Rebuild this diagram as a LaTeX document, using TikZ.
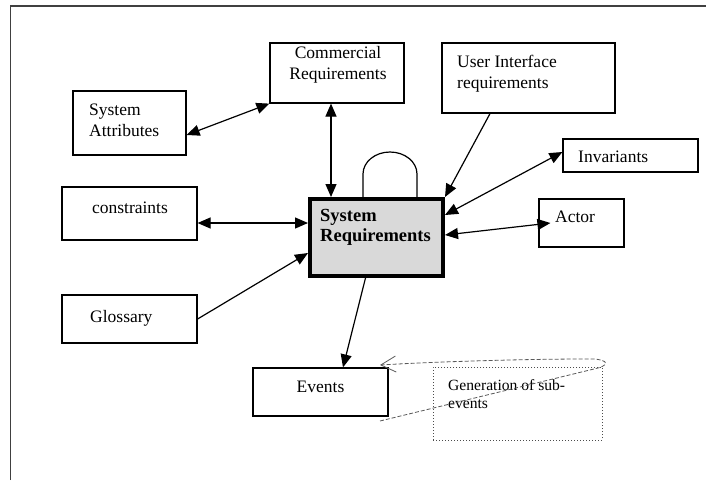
\documentclass[tikz,border=0pt]{standalone}
\usepackage{fontspec}
\setmainfont{Liberation Serif}
\usetikzlibrary{arrows.meta}

\tikzset{
  box/.style={draw=black, line width=1.2pt, inner sep=0pt},
  mainbox/.style={draw=black, fill=black!15, line width=4pt, inner sep=0pt},
  notebox/.style={draw=black!70, dotted, line width=1pt, inner sep=0pt},
  txt/.style={inner sep=0pt, align=left, anchor=base west},
  ctxt/.style={inner sep=0pt, align=center, anchor=base},
  conn/.style={draw=black, line width=1.2pt},
  >={Triangle[length=13pt,width=11pt]}
}

\begin{document}
\begin{tikzpicture}[x=1pt, y=-1pt, font=\fontsize{17.5}{21}\selectfont]
\useasboundingbox (0,0) rectangle (706,480);
% page frame
\draw [black!75, line width=1.8pt] (10.5,480) -- (10.5,6) -- (706,6);

% boxes
\node [box, minimum width=113pt, minimum height=64pt] (attr) at (129.5,123) {};
\node [box, minimum width=134pt, minimum height=60pt] (comm) at (337,73) {};
\node [box, minimum width=173pt, minimum height=70pt] (ui) at (528.5,78) {};
\node [box, minimum width=135pt, minimum height=33pt] (inv) at (630.5,155.5) {};
\node [box, minimum width=85pt, minimum height=48pt] (actor) at (581.5,223) {};
\node [box, minimum width=135pt, minimum height=53pt] (cons) at (129.5,213.5) {};
\node [box, minimum width=135pt, minimum height=48pt] (gloss) at (129.5,319) {};
\node [box, minimum width=135pt, minimum height=48pt] (events) at (320.5,392) {};
\node [mainbox, minimum width=133pt, minimum height=77pt] (main) at (376.5,237.5) {};
\node [notebox, minimum width=169pt, minimum height=73pt] (gen) at (517.5,403.5) {};

% texts (base = last line)
\node [txt] (attr-t) at (89,136) {System\\Attributes};
\node [ctxt] (comm-t) at (338,79) {Commercial\\Requirements};
\node [txt] (ui-t) at (457,88) {User Interface\\requirements};
\node [txt] (inv-t) at (578,162) {Invariants};
\node [txt] (actor-t) at (555,222) {Actor};
\node [ctxt] (cons-t) at (130,213) {constraints};
\node [txt] (gloss-t) at (90,322) {Glossary};
\node [ctxt] (events-t) at (320.5,392) {Events};
\node [txt, font=\bfseries\fontsize{18.5}{20}\selectfont] (main-t) at (320,241) {System\\Requirements};
\node [txt, font=\fontsize{15.6}{18}\selectfont] (gen-t) at (448,408) {Generation of sub-\\events};

% connectors
\draw [conn, <->] ([yshift=-12pt]attr.east) -- (comm.south west);
\draw [conn, <->] ([xshift=-6pt]comm.south) -- ([xshift=-6pt]comm.south |- main.north);
\draw [conn, ->] ([xshift=-38.5pt]ui.south) -- (main.north east);
\draw [conn, <->] ([yshift=3.5pt]inv.west) -- ([yshift=22.5pt]main.east);
\draw [conn, <->] ([xshift=12pt]actor.west) -- ([yshift=2.5pt]main.east);
\draw [conn, <->] ([yshift=-9.5pt]cons.east) -- ([yshift=-9.5pt]cons.east -| main.west);
\draw [conn, ->] (gloss.east) -- ([yshift=-15.5pt]main.west);
\draw [conn, ->] ([xshift=-11pt]main.south) -- ([xshift=22.5pt]events.north);
% loop on top of the main box
\draw [conn] ([xshift=-13.5pt]main.north) -- ++(0,-23)
  arc [start angle=180, end angle=0, x radius=27pt, y radius=22pt]
  -- ([xshift=40.5pt]main.north);

% sub-event loop
\coordinate (loop-in) at (380,421);
\coordinate (loop-out) at (380,365);
\draw [black!65, dashed, dash pattern=on 4pt off 2pt, line width=0.8pt,
  -{Straight Barb[length=15pt,width=16pt,line width=0.8pt]}]
  (loop-in) -- (598,368) .. controls (612,364) and (606,358) .. (585,359)
  .. controls (520,359) and (430,362) .. (loop-out);
\end{tikzpicture}
\end{document}
